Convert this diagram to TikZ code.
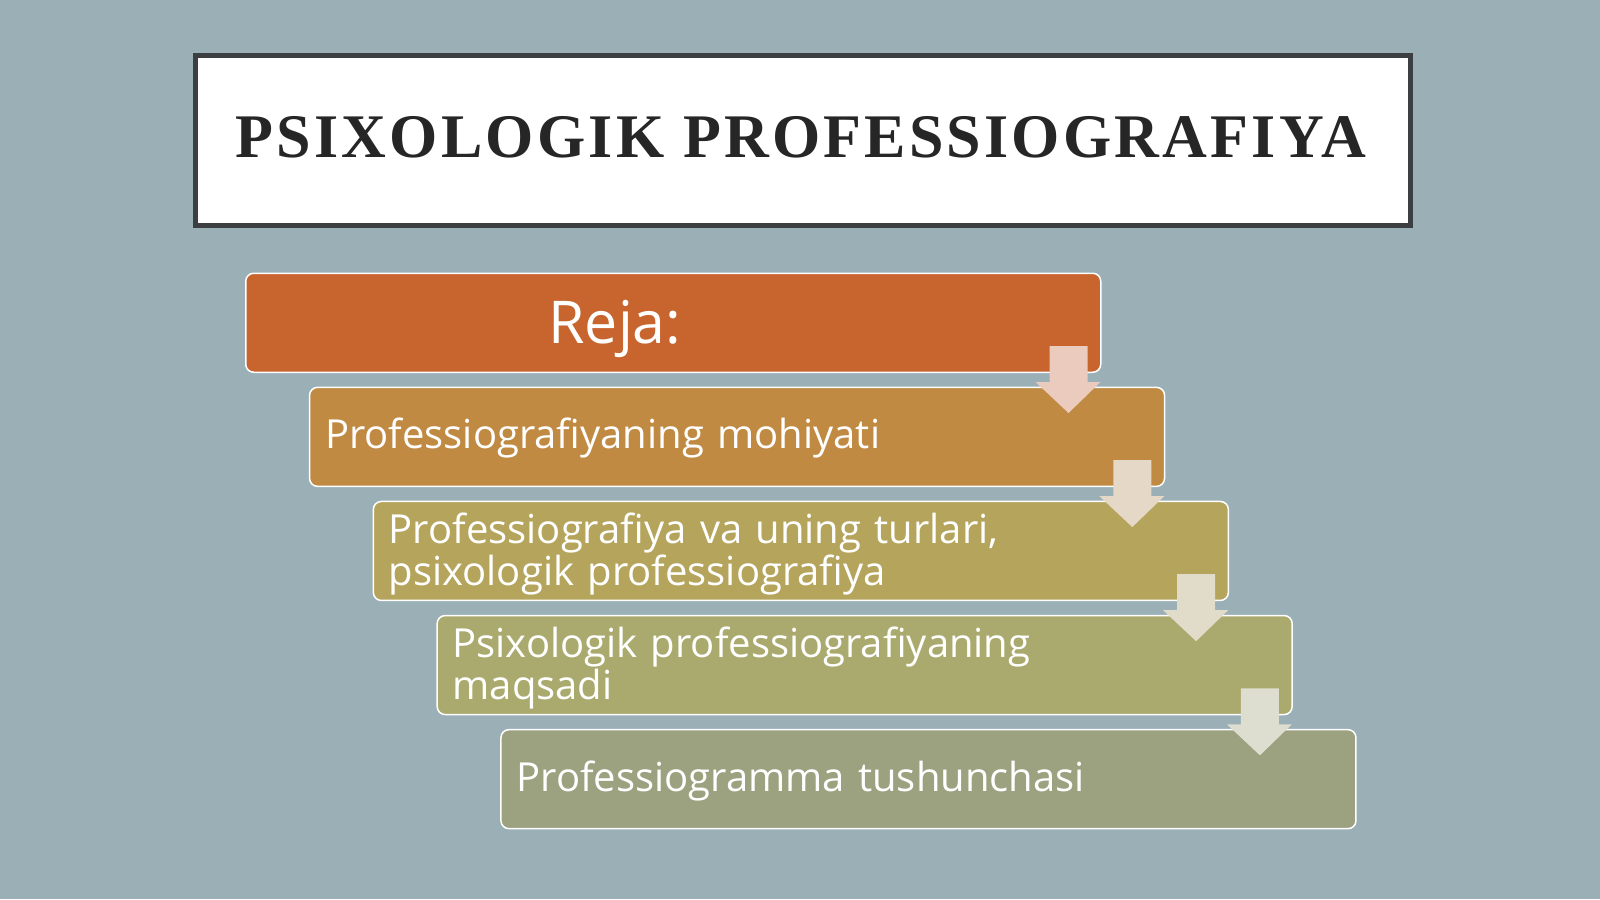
\documentclass[tikz,border=0pt]{standalone}
\usepackage{fontspec}
\setmainfont{Open Sans}
\newfontfamily\titlefont[LetterSpace=5.2]{Liberation Serif}
\usetikzlibrary{calc}
\definecolor{bg}{HTML}{9BAFB7}
\definecolor{titleborder}{HTML}{3C3F41}
\definecolor{titletext}{HTML}{262626}
\definecolor{c1}{HTML}{C8652F}
\definecolor{c2}{HTML}{C08A43}
\definecolor{c3}{HTML}{B5A45C}
\definecolor{c4}{HTML}{ABAA6E}
\definecolor{c5}{HTML}{9CA17F}
\definecolor{a1}{HTML}{EBCBBD}
\definecolor{a2}{HTML}{E5D8C6}
\definecolor{a3}{HTML}{E1DCC9}
\definecolor{a4}{HTML}{DDDED0}
\tikzset{
  stepbox/.style={draw=white, line width=1.5pt, rounded corners=8pt,
    minimum width=855pt, minimum height=99pt, inner sep=0pt, anchor=north west},
  steptext/.style={text=white, inner sep=0pt, anchor=base west, text width=820pt,
    align=left, font=\fontsize{40}{41.5}\selectfont},
}
\newcommand{\downarrowshape}[2]{%
  \fill[#2] ($(#1.south east)+(-52,-27)$) -- ($(#1.south east)+(-14,-27)$)
    -- ($(#1.south east)+(-14,9)$) -- ($(#1.south east)+(-1,9)$)
    -- ($(#1.south east)+(-33,40)$) -- ($(#1.south east)+(-66,9)$)
    -- ($(#1.south east)+(-52,9)$) -- cycle;}
\begin{document}
\begin{tikzpicture}[x=1pt,y=-1pt]
\useasboundingbox[fill=bg] (0,0) rectangle (1600,899);
% title
\node[draw=titleborder, line width=5pt, fill=white, minimum width=1215pt,
  minimum height=169.5pt, inner sep=0pt, anchor=north west] (title) at (192.5,53) {};
\node[text=titletext, anchor=base, inner sep=0pt,
  font=\titlefont\bfseries\fontsize{62}{70}\selectfont] (titletxt) at (801,157)
  {PSIXOLOGIK PROFESSIOGRAFIYA};
% boxes
\node[stepbox, fill=c1] (b1) at (245,272.5) {};
\node[stepbox, fill=c2] (b2) at (308.8,386.6) {};
\node[stepbox, fill=c3] (b3) at (372.6,500.7) {};
\node[stepbox, fill=c4] (b4) at (436.4,614.8) {};
\node[stepbox, fill=c5] (b5) at (500.2,728.9) {};
% texts
\node[text=white, inner sep=0pt, anchor=base, font=\fontsize{59}{64}\selectfont] (t1) at (615,343) {Reja:};
\node[steptext] (t2) at ($(b2.north west)+(16,61.5)$) {Professiografiyaning mohiyati};
\node[steptext] (t3) at ($(b3.north west)+(16,43)$) {Professiografiya va uning turlari,\\psixologik professiografiya};
\node[steptext] (t4) at ($(b4.north west)+(16,43)$) {Psixologik professiografiyaning\\maqsadi};
\node[steptext] (t5) at ($(b5.north west)+(16,63)$) {Professiogramma tushunchasi};
% arrows
\downarrowshape{b1}{a1}
\downarrowshape{b2}{a2}
\downarrowshape{b3}{a3}
\downarrowshape{b4}{a4}
\end{tikzpicture}
\end{document}
